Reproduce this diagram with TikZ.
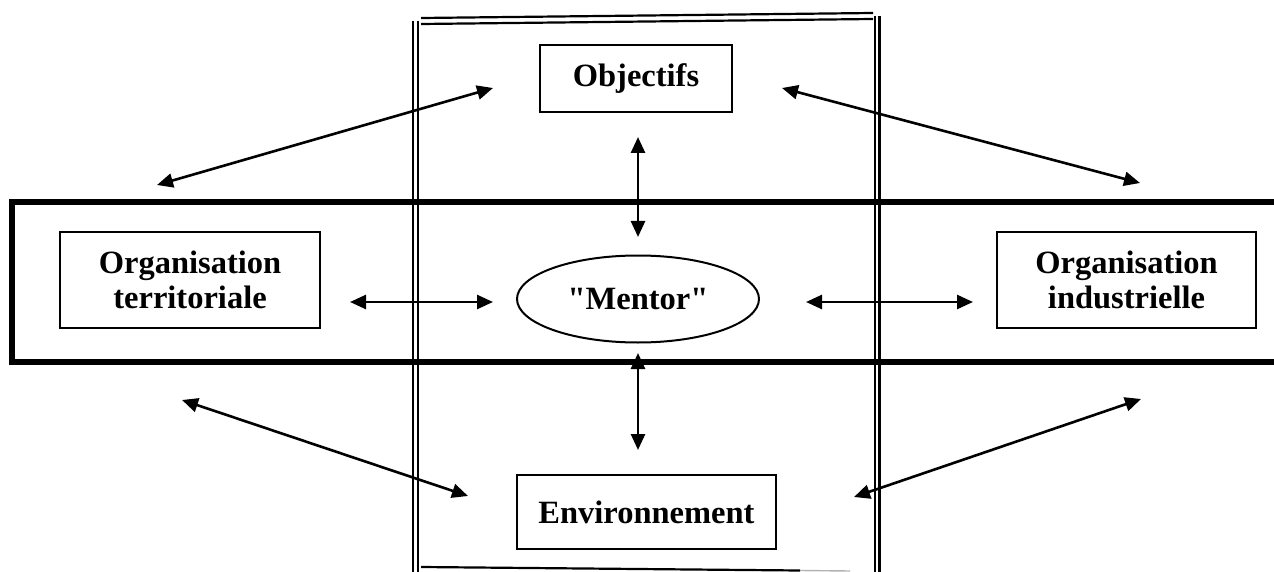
\documentclass[tikz,border=0pt]{standalone}
\usepackage{fontspec}
\setmainfont{Liberation Serif}
\usetikzlibrary{arrows.meta,shapes.geometric}
\begin{document}
\begin{tikzpicture}[x=1pt,y=-1pt,
  box/.style={draw,line width=2pt,rectangle,inner sep=0pt,align=center,font=\fontsize{32.5}{35}\selectfont\bfseries},
  link/.style={line width=2.6pt,{Triangle[length=16pt,width=14pt]}-{Triangle[length=16pt,width=14pt]}},
  frame/.style={line width=2.2pt},
  band/.style={line width=5.5pt}]
\useasboundingbox (0,0) rectangle (1274,572);
% vertical double frame
\draw[frame] (413,21) -- (413,572);
\draw[frame] (418,21) -- (418,572);
\draw[frame] (875,16) -- (875,572);
\draw[frame] (879.5,16) -- (879.5,572);
\draw[frame] (421,18) -- (873,13);
\draw[frame] (421,24) -- (873,19);
\draw[frame] (421,567) -- (800,570.5);
\draw[line width=1.4pt,gray!60] (800,570.5) -- (850,571);
% horizontal band
\draw[band] (1280,202) -- (12,202) -- (12,362) -- (1280,362);
% nodes
\node[box,minimum width=192pt,minimum height=67pt] (obj) at (636,78.5) {Objectifs};
\node[box,minimum width=260pt,minimum height=96pt] (terr) at (190,280) {Organisation\\territoriale};
\node[box,minimum width=259pt,minimum height=96pt] (ind) at (1126.5,280) {Organisation\\industrielle};
\node[box,minimum width=259pt,minimum height=74pt] (env) at (646.5,512) {Environnement};
\node[box,ellipse,minimum width=242pt,minimum height=87pt] (mentor) at (638,299) {\textquotedbl Mentor\textquotedbl};
% connector end points
\coordinate (a1) at (157,185); \coordinate (a2) at (493,88);
\coordinate (b1) at (782,88); \coordinate (b2) at (1140,183);
\coordinate (c1) at (182,400); \coordinate (c2) at (468,496);
\coordinate (d1) at (854,497); \coordinate (d2) at (1141,399);
\coordinate (e1) at (638,137); \coordinate (e2) at (638,237);
\coordinate (f1) at (638,353); \coordinate (f2) at (638,450);
\coordinate (g1) at (350,302); \coordinate (g2) at (493,302);
\coordinate (h1) at (806,302); \coordinate (h2) at (973,302);
\draw[link] (a1) -- (a2);
\draw[link] (b1) -- (b2);
\draw[link] (c1) -- (c2);
\draw[link] (d1) -- (d2);
\draw[link] (e1) -- (e2);
\draw[link] (f1) -- (f2);
\draw[link] (g1) -- (g2);
\draw[link] (h1) -- (h2);
\end{tikzpicture}
\end{document}
